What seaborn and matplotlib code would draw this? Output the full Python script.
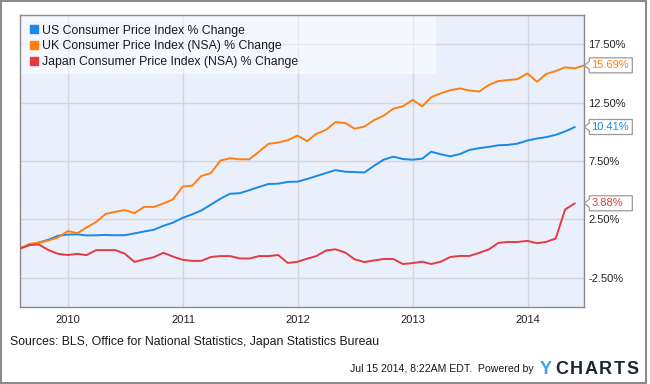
import pandas as pd
import matplotlib
matplotlib.use("Agg")
import matplotlib.pyplot as plt
from matplotlib.patches import Polygon, Rectangle
from matplotlib.lines import Line2D
import seaborn as sns

# ---------------- data ----------------
series_names = [
    "US Consumer Price Index % Change",
    "UK Consumer Price Index (NSA) % Change",
    "Japan Consumer Price Index (NSA) % Change",
]
series_colors = ["#1a88e6", "#ff7f11", "#e53b40"]

us_vals = [0.00, 0.33, 0.51, 0.77, 1.10, 1.20, 1.22, 1.13, 1.14, 1.17,
           1.14, 1.15, 1.30, 1.47, 1.61, 1.95, 2.22, 2.63, 2.94, 3.26,
           3.77, 4.27, 4.70, 4.74, 5.00, 5.28, 5.53, 5.56, 5.71, 5.73,
           5.96, 6.21, 6.47, 6.72, 6.58, 6.55, 6.52, 7.10, 7.61, 7.87,
           7.67, 7.61, 7.70, 8.30, 8.07, 7.90, 8.10, 8.45, 8.60, 8.71,
           8.85, 8.88, 8.99, 9.25, 9.43, 9.54, 9.74, 10.03, 10.41]
uk_vals = [0.00, 0.40, 0.52, 0.70, 0.96, 1.50, 1.32, 1.80, 2.28, 2.96,
           3.15, 3.30, 3.04, 3.57, 3.57, 3.86, 4.21, 5.30, 5.40, 6.21,
           6.47, 7.54, 7.74, 7.65, 7.64, 8.30, 8.97, 9.08, 9.28, 9.68,
           9.20, 9.83, 10.17, 10.83, 10.75, 10.26, 10.45, 11.01, 11.38, 11.98,
           12.18, 12.73, 12.18, 12.96, 13.30, 13.56, 13.71, 13.53, 13.45, 14.02,
           14.34, 14.43, 14.51, 15.00, 14.28, 14.94, 15.20, 15.52, 15.43, 15.69]
jp_vals = [0.00, 0.30, 0.35, -0.13, -0.45, -0.55, -0.45, -0.56, -0.13, -0.13,
           -0.13, -0.43, -1.14, -0.92, -0.74, -0.36, -0.68, -0.96, -1.05, -1.05,
           -0.72, -0.64, -0.64, -0.84, -0.85, -0.64, -0.64, -0.55, -1.23, -1.13,
           -0.86, -0.64, -0.16, -0.06, -0.34, -0.92, -1.15, -1.01, -0.89, -0.89,
           -1.32, -1.24, -1.12, -1.32, -1.12, -0.72, -0.63, -0.63, -0.36, -0.06,
           0.49, 0.57, 0.57, 0.66, 0.46, 0.57, 0.86, 3.35, 3.88]
last_labels = ["10.41%", "15.69%", "3.88%"]

start_date = "2009-07-31"
end_date = "2014-06-30"
y_ticks = [-2.5, 2.5, 7.5, 12.5, 17.5]
year_ticks = [2010, 2011, 2012, 2013, 2014]

source_text = "Sources: BLS, Office for National Statistics, Japan Statistics Bureau"
stamp_text = "Jul 15 2014, 8:22AM EDT.  Powered by"

# ---------------- build long-form frame ----------------
frames = []
for name, vals in zip(series_names, [us_vals, uk_vals, jp_vals]):
    d = pd.date_range(start_date, periods=len(vals), freq=pd.offsets.MonthEnd())
    frames.append(pd.DataFrame({"date": d, "value": vals, "series": name}))
df = pd.concat(frames, ignore_index=True)

sns.set_theme(style="white")
plt.rcParams["font.family"] = ["Liberation Sans", "DejaVu Sans"]

W, H = 650, 384
fig = plt.figure(figsize=(W / 100, H / 100), dpi=100)
ax_l, ax_r, ax_t, ax_b = 19.7, 584.3, 15.0, 307.0
ax = fig.add_axes([ax_l / W, 1 - ax_b / H, (ax_r - ax_l) / W, (ax_b - ax_t) / H])
ax.set_facecolor("#eaf0fb")

sns.lineplot(data=df, x="date", y="value", hue="series", hue_order=series_names,
             palette=dict(zip(series_names, series_colors)), linewidth=1.4,
             legend=False, ax=ax, zorder=3)

ax.set_xlim(pd.Timestamp(start_date), pd.Timestamp(end_date))
ax.set_ylim(-5, 20)
ax.set_xlabel("")
ax.set_ylabel("")

ax.set_xticks([pd.Timestamp(f"{y}-01-01") for y in year_ticks])
ax.set_xticklabels([str(y) for y in year_ticks])
ax.yaxis.tick_right()
ax.set_yticks(y_ticks)
ax.set_yticklabels([f"{v:.2f}%" for v in y_ticks])
ax.tick_params(axis="both", length=0, labelsize=8, labelcolor="#222222")
ax.tick_params(axis="x", pad=6)
ax.tick_params(axis="y", pad=3)
for lab in ax.get_yticklabels():
    lab.set_horizontalalignment("left")

ax.grid(True, color="#d3d6dc", lw=1)
ax.set_axisbelow(True)
for sp in ax.spines.values():
    sp.set_visible(True)
    sp.set_color("#8a8a8a")
    sp.set_linewidth(1)

# legend background box
ax.add_patch(Rectangle((0, 0.798), 0.737, 0.202, transform=ax.transAxes,
                       fc="white", ec="none", alpha=0.5, zorder=2.5))
handles = [Line2D([], [], marker="s", ls="none", color=c, markersize=5.8)
           for c in series_colors]
leg = ax.legend(handles, series_names, loc="upper left", bbox_to_anchor=(0.01, 0.98),
                frameon=False, fontsize=8.8, handlelength=0.8, handletextpad=0.3,
                labelspacing=0.32, borderaxespad=0, borderpad=0.3)
for t in leg.get_texts():
    t.set_color("#1a1a1a")

# last-value flags
axw = ax_r - ax_l
ppu = (ax_b - ax_t) / 25.0
ytrans = ax.get_yaxis_transform()
for vals, col, lab in zip([us_vals, uk_vals, jp_vals], series_colors, last_labels):
    v = vals[-1]
    pts_px = [(0, 0), (5, 4), (5, 7.5), (48, 7.5), (48, -7.5), (5, -7.5), (5, -4)]
    pts = [(1 + dx / axw, v + dy / ppu) for dx, dy in pts_px]
    ax.add_patch(Polygon(pts, closed=True, transform=ytrans, fc="white",
                         ec="#9a9a9a", lw=0.9, clip_on=False, zorder=5))
    ax.text(1 + 7 / axw, v, lab, transform=ytrans, ha="left", va="center",
            fontsize=8, color=col, clip_on=False, zorder=6)

# footer
fig.text(10 / W, 1 - 342 / H, source_text, ha="left", va="center",
         fontsize=8.8, color="#1a1a1a")
fig.text(534 / W, 1 - 368.5 / H, stamp_text, ha="right", va="center",
         fontsize=7.6, color="#1a1a1a")
logo = "YCHARTS"
centers = [545.5, 561.5, 576.5, 591.5, 605.5, 619.5, 633.0]
for ch, cx in zip(logo, centers):
    fig.text(cx / W, 1 - 369.5 / H, ch, ha="center", va="center", fontsize=13,
             fontweight="bold", color="#3aa6ee" if ch == "Y" else "#1b2733")

fig.add_artist(Rectangle((1 / W, 1 / H), 645 / W, 382 / H, transform=fig.transFigure,
                         fill=False, ec="#8c8c8c", lw=1.5))

fig.savefig("out.png", dpi=100)
